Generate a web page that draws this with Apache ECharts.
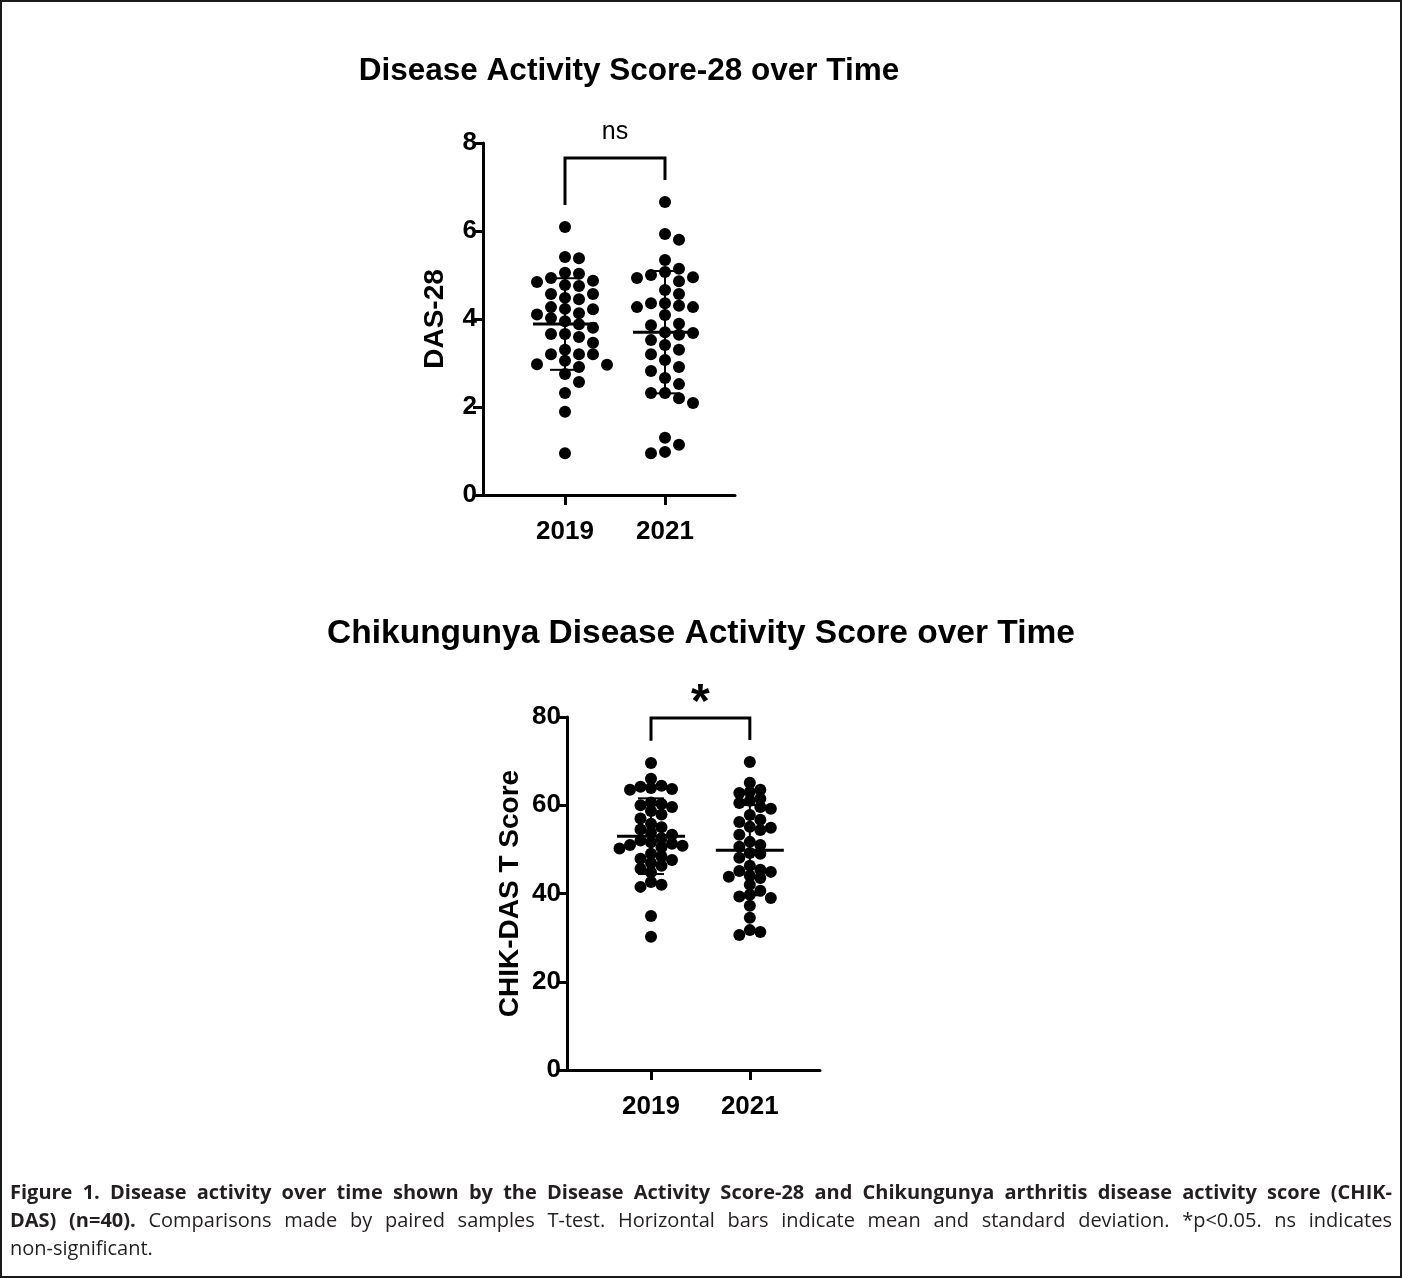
<!DOCTYPE html>
<html>
<head>
<meta charset="utf-8">
<script src="https://cdn.jsdelivr.net/npm/echarts@6/dist/echarts.min.js"></script>
<style>
  html, body { margin: 0; padding: 0; background: #fff; }
  #chart { position: absolute; left: 0; top: 0; width: 1402px; height: 1278px; }
  #frame { position: absolute; left: 0; top: 0; width: 1402px; height: 1278px; box-sizing: border-box;
           border: 2px solid #1a1a1a; pointer-events: none; }
  #caption { position: absolute; left: 10px; top: 1178px; width: 1382px; font-family: 'Open Sans', Lato, sans-serif;
             font-size: 20px; line-height: 28px; color: #231f20; }
  #caption .j { text-align: justify; text-align-last: justify; }
</style>
</head>
<body>
<div id="chart"></div>
<div id="frame"></div>
<div id="caption">
  <div class="j"><b>Figure 1. Disease activity over time shown by the Disease Activity Score-28 and Chikungunya arthritis disease activity score (CHIK-</b></div>
  <div class="j"><b>DAS) (n=40).</b> Comparisons made by paired samples T-test. Horizontal bars indicate mean and standard deviation. *p&lt;0.05. ns indicates</div>
  <div>non-significant.</div>
</div>
<script>
// ---------------- DATA ----------------
const categories = ['2019', '2021'];
const titles = ['Disease Activity Score-28 over Time', 'Chikungunya Disease Activity Score over Time'];
const yAxisNames = ['DAS-28', 'CHIK-DAS T Score'];
const significance = ['ns', '*'];

const das2019 = [6.09, 5.38, 5.41, 5.05, 4.93, 4.87, 5.03, 4.84, 4.75, 4.77,
                 4.57, 4.48, 4.57, 4.45, 4.22, 4.27, 4.23, 4.13, 4.10, 4.02,
                 3.95, 3.88, 3.80, 3.66, 3.66, 3.59, 3.46, 3.20, 3.20, 3.30,
                 3.20, 2.96, 2.97, 3.05, 2.91, 2.75, 2.57, 2.32, 1.89, 0.95];
const das2021 = [6.66, 5.80, 5.93, 5.34, 5.14, 5.07, 4.95, 5.00, 4.93, 4.86,
                 4.57, 4.66, 4.36, 4.27, 4.27, 4.30, 4.36, 4.09, 3.89, 3.86,
                 3.70, 3.64, 3.68, 3.52, 3.41, 3.30, 3.20, 3.07, 2.91, 2.82,
                 2.66, 2.52, 2.32, 2.32, 2.20, 2.09, 1.30, 1.14, 0.95, 0.98];
const chik2019 = [69.6, 66.0, 64.4, 64.2, 63.9, 63.5, 63.7, 60.6, 60.3, 60.0,
                  59.6, 58.7, 57.9, 57.0, 55.8, 55.0, 54.5, 53.8, 53.3, 52.5,
                  52.0, 51.6, 51.3, 51.0, 50.8, 50.5, 50.2, 49.0, 48.4, 47.9,
                  47.6, 46.9, 46.3, 45.6, 44.8, 42.6, 42.0, 41.5, 34.9, 30.2];
const chik2021 = [69.8, 65.1, 63.0, 63.5, 62.8, 61.5, 61.0, 59.6, 60.5, 59.2,
                  57.8, 56.2, 56.7, 54.4, 55.1, 54.9, 53.3, 51.7, 51.0, 50.6,
                  49.2, 49.0, 48.1, 46.3, 45.4, 44.9, 45.1, 44.0, 43.8, 43.5,
                  42.0, 40.6, 39.3, 39.7, 39.0, 37.2, 34.5, 30.6, 31.7, 31.3];
const dasTicks = [0, 2, 4, 6, 8];
const chikTicks = [0, 20, 40, 60, 80];

// ---------------- LAYOUT ----------------
const FONT = '"Liberation Sans", Arial, Helvetica, sans-serif';
const panels = [
  { groups: [das2019, das2021], ticks: dasTicks, left: 483, top: 143, width: 252, height: 352,
    xMin: 0.18, xMax: 2.70, step: 14, dmin: 11, title: titles[0], titleX: 629, titleY: 53, titleSize: 31.5,
    yName: yAxisNames[0], nameGap: 34, sig: significance[0], sigSize: 25, sigBold: 'normal', sigDy: -1,
    meanHalf: 32, capHalf: 15 },
  { groups: [chik2019, chik2021], ticks: chikTicks, left: 567, top: 717, width: 253, height: 353,
    xMin: 0.15, xMax: 2.71, step: 10.5, dmin: 8, title: titles[1], titleX: 701, titleY: 616, titleSize: 33.5,
    yName: yAxisNames[1], nameGap: 43, sig: significance[1], sigSize: 48, sigBold: 'bold', sigDy: 22,
    meanHalf: 34, capHalf: 13 }
];

function mean(a) { return a.reduce((s, v) => s + v, 0) / a.length; }
function sd(a) { const m = mean(a); return Math.sqrt(a.reduce((s, v) => s + (v - m) * (v - m), 0) / (a.length - 1)); }

// beeswarm layout: columns offset by step, avoiding overlap (in pixels)
function swarm(values, center, pxX, pxY, step, dmin) {
  const order = values.map((v, i) => i).sort((a, b) => values[b] - values[a]);
  const placed = [];
  const out = new Array(values.length);
  for (const i of order) {
    const py = values[i] * pxY;
    for (let k = 0; k < 60; k++) {
      const n = Math.ceil(k / 2);
      const off = k === 0 ? 0 : (k % 2 ? n : -n) * step;
      if (placed.every(p => Math.hypot(p.x - off, p.y - py) >= dmin)) {
        placed.push({ x: off, y: py });
        out[i] = [center + off / pxX, values[i]];
        break;
      }
    }
  }
  return out;
}

const grid = [], xAxis = [], yAxis = [], series = [], title = [];
panels.forEach((p, pi) => {
  const yMax = p.ticks[p.ticks.length - 1];
  const interval = p.ticks[1] - p.ticks[0];
  const pxX = p.width / (p.xMax - p.xMin);
  const pxY = p.height / yMax;
  grid.push({ left: p.left, top: p.top, width: p.width, height: p.height, containLabel: false });
  title.push({ text: p.title, left: p.titleX, top: p.titleY, textAlign: 'center', padding: 0,
    textStyle: { fontFamily: FONT, fontSize: p.titleSize, fontWeight: 'bold', color: '#000', lineHeight: 36 } });
  xAxis.push({
    type: 'value', gridIndex: pi, min: p.xMin, max: p.xMax,
    axisLine: { show: true, onZero: false, lineStyle: { color: '#000', width: 3 } },
    axisTick: { show: true, customValues: [1, 2], length: 10, lineStyle: { color: '#000', width: 3 } },
    axisLabel: { show: true, customValues: [1, 2], margin: 24, formatter: v => categories[Math.round(v) - 1] || '',
      fontFamily: FONT, fontSize: 26, fontWeight: 'bold', color: '#000' },
    splitLine: { show: false }
  });
  yAxis.push({
    type: 'value', gridIndex: pi, min: 0, max: yMax, interval: interval,
    name: p.yName, nameLocation: 'middle', nameGap: p.nameGap,
    nameTextStyle: { fontFamily: FONT, fontSize: 28, fontWeight: 'bold', color: '#000' },
    axisLine: { show: true, lineStyle: { color: '#000', width: 3 } },
    axisTick: { show: true, length: 10, lineStyle: { color: '#000', width: 3 } },
    axisLabel: { margin: 6, fontFamily: FONT, fontSize: 26, fontWeight: 'bold', color: '#000' },
    splitLine: { show: false }
  });
  const stats = [];
  p.groups.forEach((vals, gi) => {
    series.push({
      type: 'scatter', xAxisIndex: pi, yAxisIndex: pi, symbol: 'circle', symbolSize: 12,
      itemStyle: { color: '#000', opacity: 1 }, silent: true, z: 2,
      data: swarm(vals, gi + 1, pxX, pxY, p.step, p.dmin)
    });
    stats.push([gi + 1, mean(vals), sd(vals)]);
  });
  // mean and SD bars
  series.push({
    type: 'custom', xAxisIndex: pi, yAxisIndex: pi, z: 5, silent: true, data: stats,
    renderItem: (params, api) => {
      const x = api.value(0), m = api.value(1), s = api.value(2);
      const c = api.coord([x, m]), t = api.coord([x, m + s]), b = api.coord([x, m - s]);
      const st = w => ({ stroke: '#000', lineWidth: w });
      return { type: 'group', children: [
        { type: 'line', shape: { x1: c[0] - p.meanHalf, y1: c[1], x2: c[0] + p.meanHalf, y2: c[1] }, style: st(3) },
        { type: 'line', shape: { x1: c[0], y1: t[1], x2: c[0], y2: b[1] }, style: st(2) },
        { type: 'line', shape: { x1: c[0] - p.capHalf, y1: t[1], x2: c[0] + p.capHalf, y2: t[1] }, style: st(2) },
        { type: 'line', shape: { x1: c[0] - p.capHalf, y1: b[1], x2: c[0] + p.capHalf, y2: b[1] }, style: st(2) }
      ] };
    }
  });
  // significance bracket, placed above the group maxima
  const maxA = Math.max(...p.groups[0]), maxB = Math.max(...p.groups[1]);
  const top = Math.max(maxA, maxB) + yMax / 8;
  series.push({
    type: 'custom', xAxisIndex: pi, yAxisIndex: pi, z: 5, silent: true,
    data: [[1, 2, top, maxA + yMax / 16, maxB + yMax / 16]],
    renderItem: (params, api) => {
      const a = api.coord([api.value(0), api.value(2)]);
      const b = api.coord([api.value(1), api.value(2)]);
      const la = api.coord([api.value(0), api.value(3)]);
      const lb = api.coord([api.value(1), api.value(4)]);
      return { type: 'group', children: [
        { type: 'polyline', shape: { points: [la, a, b, lb] }, style: { stroke: '#000', lineWidth: 3, fill: null } },
        { type: 'text', x: (a[0] + b[0]) / 2, y: a[1] - 12 + p.sigDy,
          style: { text: p.sig, fontFamily: FONT, fontSize: p.sigSize, fontWeight: p.sigBold, fill: '#000',
                   align: 'center', verticalAlign: 'bottom' } }
      ] };
    }
  });
});

const chart = echarts.init(document.getElementById('chart'), null, { renderer: 'canvas', width: 1402, height: 1278 });
chart.setOption({ backgroundColor: '#fff', animation: false, title, grid, xAxis, yAxis, series });
</script>
</body>
</html>
